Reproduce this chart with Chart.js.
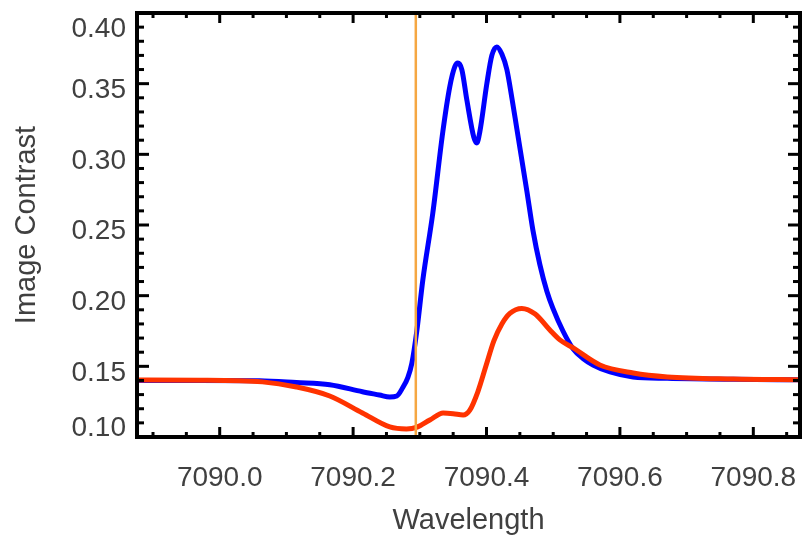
<!DOCTYPE html>
<html><head><meta charset="utf-8">
<script src="https://cdn.jsdelivr.net/npm/chart.js@4.4.1/dist/chart.umd.min.js"></script>
<style>html,body{margin:0;padding:0;background:#fff}canvas{display:block}</style>
</head><body>
<canvas id="c" width="802" height="541"></canvas>
<script>
// ---- data ----
const wavelengthBlue = [7089.876, 7089.970, 7090.060, 7090.115, 7090.165, 7090.214, 7090.2395, 7090.2549, 7090.2655, 7090.2745, 7090.282, 7090.288, 7090.2955, 7090.3045, 7090.3195, 7090.3345, 7090.345, 7090.3525, 7090.357, 7090.363, 7090.3705, 7090.381, 7090.3855, 7090.390, 7090.4005, 7090.408, 7090.4155, 7090.423, 7090.4305, 7090.438, 7090.4455, 7090.4605, 7090.4695, 7090.480, 7090.4906, 7090.4996, 7090.5146, 7090.5297, 7090.5447, 7090.5597, 7090.5852, 7090.6197, 7090.671, 7090.770, 7090.870];
const contrastBlue   = [0.1400, 0.1400, 0.1398, 0.1385, 0.1370, 0.1320, 0.1297, 0.1283, 0.1290, 0.1350, 0.1420, 0.1520, 0.1750, 0.2110, 0.2585, 0.3160, 0.3480, 0.3620, 0.3646, 0.3600, 0.3385, 0.3120, 0.3080, 0.3160, 0.3500, 0.3700, 0.3760, 0.3710, 0.3600, 0.3400, 0.3180, 0.2740, 0.2465, 0.2220, 0.2030, 0.1910, 0.1750, 0.1625, 0.1555, 0.1510, 0.1460, 0.1425, 0.1415, 0.1408, 0.1405];
const wavelengthRed  = [7089.876, 7089.970, 7090.064, 7090.115, 7090.165, 7090.214, 7090.255, 7090.280, 7090.296, 7090.315, 7090.335, 7090.350, 7090.365, 7090.375, 7090.387, 7090.399, 7090.411, 7090.423, 7090.435, 7090.453, 7090.473, 7090.495, 7090.510, 7090.530, 7090.570, 7090.620, 7090.671, 7090.770, 7090.870];
const contrastRed    = [0.1403, 0.1402, 0.1390, 0.1354, 0.1290, 0.1170, 0.1071, 0.1057, 0.1070, 0.1120, 0.1170, 0.1165, 0.1155, 0.1190, 0.1320, 0.1500, 0.1680, 0.1800, 0.1875, 0.1910, 0.1870, 0.1757, 0.1687, 0.1630, 0.1510, 0.1453, 0.1425, 0.1410, 0.1405];
const markerWavelength = 7090.294;
const xTickValues = [7090.0, 7090.2, 7090.4, 7090.6, 7090.8];
const yTickValues = [0.10, 0.15, 0.20, 0.25, 0.30, 0.35, 0.40];
const xRange = [7089.876, 7090.870];
const yRange = [0.10, 0.40];
const xMinorStep = 0.05, yMinorStep = 0.01;

const FONT = '"Liberation Sans", Arial, Helvetica, sans-serif';
const TEXT = '#404040';

const toPts = (xs, ys) => xs.map((v, i) => ({x: v, y: ys[i]}));

const framePlugin = {
  id: 'frame',
  afterDatasetsDraw(chart) {
    const {ctx, chartArea: a, scales: {x, y}} = chart;
    ctx.save();
    ctx.strokeStyle = '#000';
    ctx.lineCap = 'butt';
    ctx.lineWidth = 3;
    const seg = (x1, y1, x2, y2) => { ctx.beginPath(); ctx.moveTo(x1, y1); ctx.lineTo(x2, y2); ctx.stroke(); };
    const isMajor = (arr, v) => arr.some(t => Math.abs(t - v) < 1e-6);
    for (let i = Math.ceil(xRange[0] / xMinorStep - 1e-9); i * xMinorStep <= xRange[1] + 1e-9; i++) {
      const v = i * xMinorStep;
      const px = x.getPixelForValue(v);
      const len = isMajor(xTickValues, v) ? 10 : 5;
      seg(px, a.bottom, px, a.bottom - len);
      seg(px, a.top, px, a.top + len);
    }
    for (let i = Math.ceil(yRange[0] / yMinorStep - 1e-9); i * yMinorStep <= yRange[1] + 1e-9; i++) {
      const v = i * yMinorStep;
      const py = y.getPixelForValue(v);
      const len = isMajor(yTickValues, v) ? 12 : 7;
      seg(a.left, py, a.left + len, py);
      seg(a.right, py, a.right - len, py);
    }
    ctx.lineWidth = 4;
    ctx.strokeRect(a.left, a.top, a.right - a.left, a.bottom - a.top);
    // y tick labels (IDL style: end labels kept inside the frame height)
    ctx.fillStyle = TEXT;
    ctx.font = '28px ' + FONT;
    ctx.textAlign = 'right';
    ctx.textBaseline = 'middle';
    yTickValues.forEach(v => {
      const py = y.getPixelForValue(v);
      const ty = Math.max(a.top + 16, Math.min(a.bottom - 9, py + 6.5));
      ctx.fillText(v.toFixed(2), a.left - 11, ty);
    });
    ctx.restore();
  }
};

new Chart(document.getElementById('c'), {
  type: 'scatter',
  data: {
    datasets: [
      {data: [{x: markerWavelength, y: yRange[0]}, {x: markerWavelength, y: yRange[1]}], showLine: true, borderColor: '#f5a742', borderWidth: 2.5, pointRadius: 0, order: 0},
      {data: toPts(wavelengthRed, contrastRed), showLine: true, borderColor: '#ff3300', borderWidth: 5, pointRadius: 0, cubicInterpolationMode: 'monotone', order: 1},
      {data: toPts(wavelengthBlue, contrastBlue), showLine: true, borderColor: '#0000ff', borderWidth: 5, pointRadius: 0, cubicInterpolationMode: 'monotone', order: 2}
    ]
  },
  options: {
    responsive: false,
    animation: false,
    devicePixelRatio: 1,
    layout: {padding: {top: 13, right: 2, left: 0, bottom: 0}},
    plugins: {legend: {display: false}, tooltip: {enabled: false}},
    scales: {
      x: {
        type: 'linear', min: xRange[0], max: xRange[1],
        grid: {display: false, drawTicks: false},
        border: {display: false},
        afterBuildTicks: s => { s.ticks = xTickValues.map(v => ({value: v})); },
        afterFit: s => { s.height = 104; s.paddingLeft = 0; s.paddingRight = 0; },
        ticks: {padding: 24, color: TEXT, font: {family: FONT, size: 28}, callback: v => Number(v).toFixed(1), maxRotation: 0, autoSkip: false},
        title: {display: true, text: 'Wavelength', color: TEXT, font: {family: FONT, size: 29}, padding: {top: 0, bottom: 3}}
      },
      y: {
        type: 'linear', min: yRange[0], max: yRange[1],
        grid: {display: false, drawTicks: false},
        border: {display: false},
        afterBuildTicks: s => { s.ticks = yTickValues.map(v => ({value: v})); },
        afterFit: s => { s.width = 137; s.paddingTop = 0; s.paddingBottom = 0; },
        ticks: {display: false},
        title: {display: true, text: 'Image Contrast', color: TEXT, font: {family: FONT, size: 29}, padding: {top: 10, bottom: 0}}
      }
    }
  },
  plugins: [framePlugin]
});
</script>
</body></html>
